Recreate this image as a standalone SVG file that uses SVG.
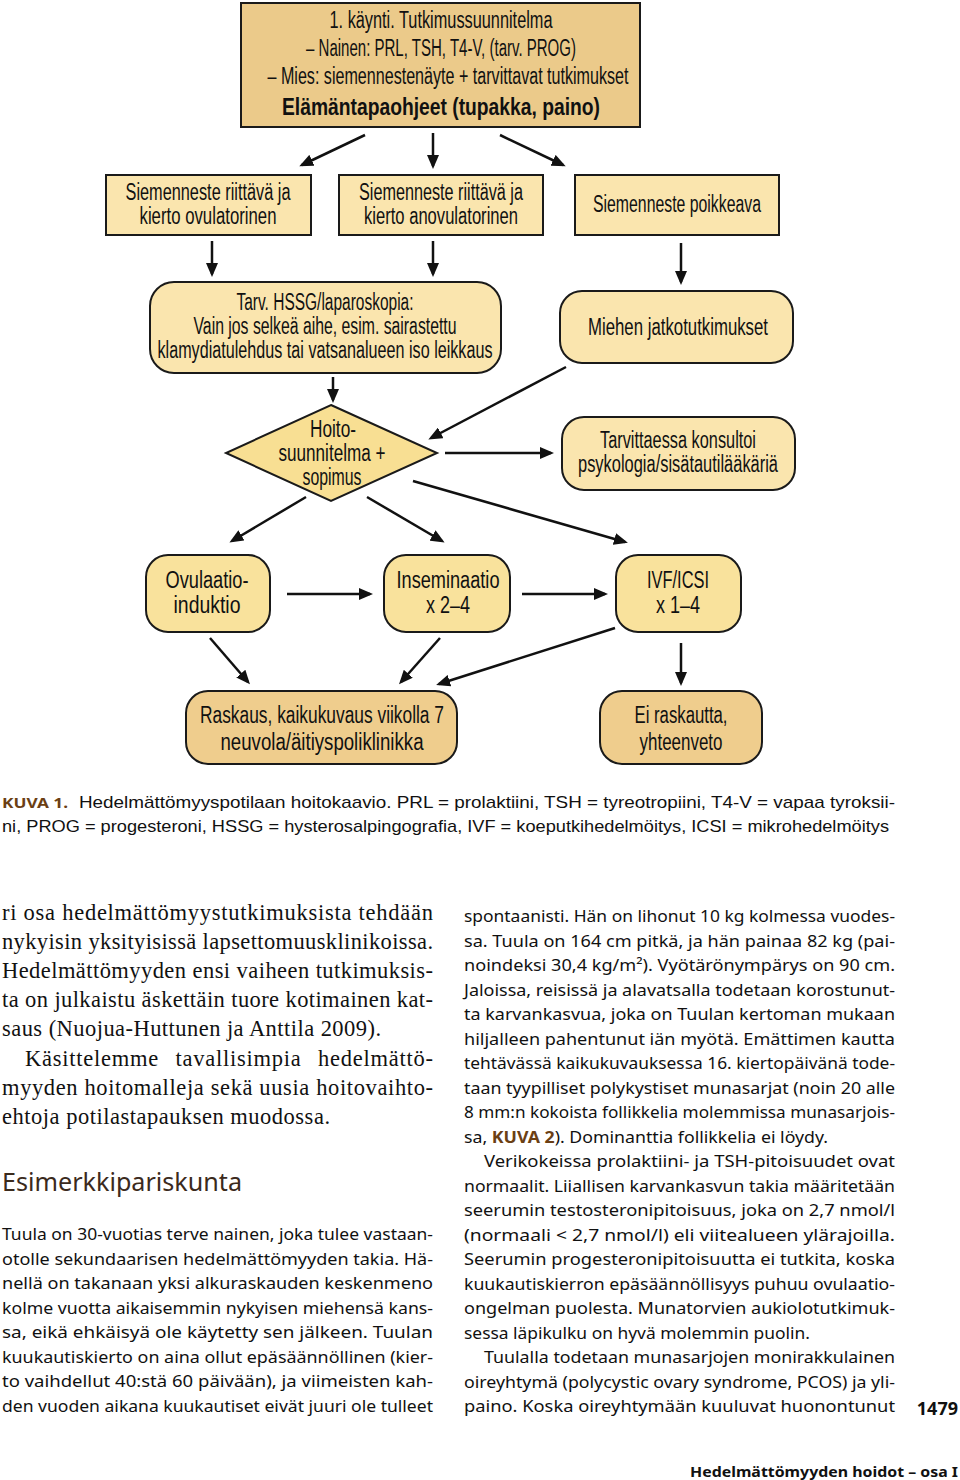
<svg xmlns="http://www.w3.org/2000/svg" width="960" height="1480" viewBox="0 0 960 1480">
<defs>
<marker id="ah" markerWidth="14" markerHeight="12" refX="11" refY="6" orient="auto" markerUnits="userSpaceOnUse">
<path d="M0,0 L14,6 L0,12 z" fill="#111"/>
</marker>
<style>
.box{stroke:#1a1a1a;stroke-width:2}
.tan{fill:#ebca8a}
.light{fill:#fae5ae}
.yel{fill:#f9e29c}
.dtan{fill:#efcd8d}
.n{font-family:"Liberation Sans",Arial,sans-serif;font-size:23px;fill:#111;text-anchor:middle}
.nb{font-weight:bold}
.c line{stroke:#111;stroke-width:2.5;marker-end:url(#ah)}
.cap{font-family:"Liberation Sans",Arial,sans-serif;font-size:17px;fill:#111}
.kuva{font-family:"Noto Sans","Liberation Sans",sans-serif;font-weight:bold;fill:#6b3f14}
.serif{font-family:"Liberation Serif","Times New Roman",serif;font-size:22.5px;fill:#111}
.sans{font-family:"Noto Sans","Open Sans",sans-serif;font-size:16.5px;fill:#111}
.head{font-family:"Noto Sans","Open Sans",sans-serif;font-size:26px;fill:#3b2a1c}
</style>
</defs>
<rect width="960" height="1480" fill="#ffffff"/>

<g id="connectors" class="c">
<line x1="365" y1="135" x2="302" y2="165"/>
<line x1="433" y1="133" x2="433" y2="166"/>
<line x1="500" y1="135" x2="563" y2="165"/>
<line x1="212" y1="241" x2="212" y2="274"/>
<line x1="433" y1="241" x2="433" y2="274"/>
<line x1="681" y1="243" x2="681" y2="282"/>
<line x1="333" y1="377" x2="333" y2="400"/>
<line x1="566" y1="367" x2="431" y2="438"/>
<line x1="445" y1="453" x2="551" y2="453"/>
<line x1="306" y1="497" x2="232" y2="541"/>
<line x1="367" y1="497" x2="442" y2="541"/>
<line x1="413" y1="481" x2="625" y2="542"/>
<line x1="287" y1="594" x2="370" y2="594"/>
<line x1="522" y1="594" x2="605" y2="594"/>
<line x1="210" y1="638" x2="248" y2="682"/>
<line x1="440" y1="638" x2="401" y2="682"/>
<line x1="615" y1="628" x2="439" y2="684"/>
<line x1="681" y1="643" x2="681" y2="683"/>
</g>

<g id="n-visit">
<rect class="box tan" x="241" y="3" width="399" height="124"/>
<text class="n" x="441" y="28" textLength="223" lengthAdjust="spacingAndGlyphs">1. käynti. Tutkimussuunnitelma</text>
<text class="n" x="441" y="56" textLength="270" lengthAdjust="spacingAndGlyphs">– Nainen: PRL, TSH, T4-V, (tarv. PROG)</text>
<text class="n" x="448" y="84" textLength="361" lengthAdjust="spacingAndGlyphs">– Mies: siemennestenäyte + tarvittavat tutkimukset</text>
<text class="n nb" x="441" y="115" textLength="318" lengthAdjust="spacingAndGlyphs">Elämäntapaohjeet (tupakka, paino)</text>
</g>

<g id="n-ovul">
<rect class="box light" x="106" y="175" width="205" height="60"/>
<text class="n" x="208" y="200" textLength="165" lengthAdjust="spacingAndGlyphs">Siemenneste riittävä ja</text>
<text class="n" x="208" y="224" textLength="137" lengthAdjust="spacingAndGlyphs">kierto ovulatorinen</text>
</g>

<g id="n-anovul">
<rect class="box light" x="339" y="175" width="204" height="60"/>
<text class="n" x="441" y="200" textLength="164" lengthAdjust="spacingAndGlyphs">Siemenneste riittävä ja</text>
<text class="n" x="441" y="224" textLength="154" lengthAdjust="spacingAndGlyphs">kierto anovulatorinen</text>
</g>

<g id="n-poikkeava">
<rect class="box light" x="575" y="175" width="204" height="60"/>
<text class="n" x="677" y="212" textLength="168" lengthAdjust="spacingAndGlyphs">Siemenneste poikkeava</text>
</g>

<g id="n-hssg">
<rect class="box light" x="150" y="282" width="351" height="91" rx="24"/>
<text class="n" x="325" y="310" textLength="177" lengthAdjust="spacingAndGlyphs">Tarv. HSSG/laparoskopia:</text>
<text class="n" x="325" y="334" textLength="263" lengthAdjust="spacingAndGlyphs">Vain jos selkeä aihe, esim. sairastettu</text>
<text class="n" x="325" y="358" textLength="335" lengthAdjust="spacingAndGlyphs">klamydiatulehdus tai vatsanalueen iso leikkaus</text>
</g>

<g id="n-miehen">
<rect class="box light" x="560" y="291" width="233" height="72" rx="22"/>
<text class="n" x="678" y="335" textLength="180" lengthAdjust="spacingAndGlyphs">Miehen jatkotutkimukset</text>
</g>

<g id="n-hoito">
<polygon class="box" fill="#f8df93" points="331,405 437,453 331,501 226,453"/>
<text class="n" x="333" y="437" textLength="46" lengthAdjust="spacingAndGlyphs">Hoito-</text>
<text class="n" x="332" y="461" textLength="107" lengthAdjust="spacingAndGlyphs">suunnitelma +</text>
<text class="n" x="332" y="485" textLength="59" lengthAdjust="spacingAndGlyphs">sopimus</text>
</g>

<g id="n-konsultoi">
<rect class="box light" x="562" y="417" width="233" height="73" rx="22"/>
<text class="n" x="678" y="448" textLength="156" lengthAdjust="spacingAndGlyphs">Tarvittaessa konsultoi</text>
<text class="n" x="678" y="472" textLength="200" lengthAdjust="spacingAndGlyphs">psykologia/sisätautilääkäriä</text>
</g>

<g id="n-ovulaatio">
<rect class="box yel" x="146" y="555" width="124" height="77" rx="22"/>
<text class="n" x="207" y="588" textLength="83" lengthAdjust="spacingAndGlyphs">Ovulaatio-</text>
<text class="n" x="207" y="613" textLength="67" lengthAdjust="spacingAndGlyphs">induktio</text>
</g>

<g id="n-insem">
<rect class="box yel" x="384" y="555" width="126" height="77" rx="22"/>
<text class="n" x="448" y="588" textLength="103" lengthAdjust="spacingAndGlyphs">Inseminaatio</text>
<text class="n" x="448" y="613" textLength="44" lengthAdjust="spacingAndGlyphs">x 2–4</text>
</g>

<g id="n-ivf">
<rect class="box yel" x="616" y="555" width="125" height="77" rx="22"/>
<text class="n" x="678" y="588" textLength="62" lengthAdjust="spacingAndGlyphs">IVF/ICSI</text>
<text class="n" x="678" y="613" textLength="44" lengthAdjust="spacingAndGlyphs">x 1–4</text>
</g>

<g id="n-raskaus">
<rect class="box dtan" x="186" y="691" width="271" height="73" rx="22"/>
<text class="n" x="322" y="723" textLength="244" lengthAdjust="spacingAndGlyphs">Raskaus, kaikukuvaus viikolla 7</text>
<text class="n" x="322" y="750" textLength="203" lengthAdjust="spacingAndGlyphs">neuvola/äitiyspoliklinikka</text>
</g>

<g id="n-ei">
<rect class="box dtan" x="600" y="691" width="162" height="73" rx="22"/>
<text class="n" x="681" y="723" textLength="93" lengthAdjust="spacingAndGlyphs">Ei raskautta,</text>
<text class="n" x="681" y="750" textLength="83" lengthAdjust="spacingAndGlyphs">yhteenveto</text>
</g>

<g id="caption">
<text class="kuva" x="2" y="808" font-size="15" textLength="66" lengthAdjust="spacingAndGlyphs">KUVA 1.</text>
<text class="cap" x="79" y="808" textLength="816" lengthAdjust="spacingAndGlyphs">Hedelmättömyyspotilaan hoitokaavio. PRL = prolaktiini, TSH = tyreotropiini, T4-V = vapaa tyroksii-</text>
<text class="cap" x="2" y="832" textLength="887" lengthAdjust="spacingAndGlyphs">ni, PROG = progesteroni, HSSG = hysterosalpingografia, IVF = koeputkihedelmöitys, ICSI = mikrohedelmöitys</text>
</g>

<g id="col-left-serif" class="serif">
<text x="2" y="920" textLength="431">ri osa hedelmättömyystutkimuksista tehdään</text>
<text x="2" y="949" textLength="431">nykyisin yksityisissä lapsettomuusklinikoissa.</text>
<text x="2" y="978" textLength="431">Hedelmättömyyden ensi vaiheen tutkimuksis-</text>
<text x="2" y="1007" textLength="431">ta on julkaistu äskettäin tuore kotimainen kat-</text>
<text x="2" y="1036" textLength="379">saus (Nuojua-Huttunen ja Anttila 2009).</text>
<text x="25" y="1066" textLength="408" word-spacing="10">Käsittelemme tavallisimpia hedelmättö-</text>
<text x="2" y="1095" textLength="431">myyden hoitomalleja sekä uusia hoitovaihto-</text>
<text x="2" y="1124" textLength="328">ehtoja potilastapauksen muodossa.</text>
</g>

<text class="head" x="2" y="1191" textLength="240" lengthAdjust="spacingAndGlyphs">Esimerkkipariskunta</text>

<g id="col-left-sans" class="sans">
<text x="2" y="1240" textLength="431" lengthAdjust="spacingAndGlyphs">Tuula on 30-vuotias terve nainen, joka tulee vastaan-</text>
<text x="2" y="1264.5" textLength="431" lengthAdjust="spacingAndGlyphs">otolle sekundaarisen hedelmättömyyden takia. Hä-</text>
<text x="2" y="1289" textLength="431" lengthAdjust="spacingAndGlyphs">nellä on takanaan yksi alkuraskauden keskenmeno</text>
<text x="2" y="1313.5" textLength="431" lengthAdjust="spacingAndGlyphs">kolme vuotta aikaisemmin nykyisen miehensä kans-</text>
<text x="2" y="1338" textLength="431" lengthAdjust="spacingAndGlyphs">sa, eikä ehkäisyä ole käytetty sen jälkeen. Tuulan</text>
<text x="2" y="1362.5" textLength="431" lengthAdjust="spacingAndGlyphs">kuukautiskierto on aina ollut epäsäännöllinen (kier-</text>
<text x="2" y="1387" textLength="431" lengthAdjust="spacingAndGlyphs">to vaihdellut 40:stä 60 päivään), ja viimeisten kah-</text>
<text x="2" y="1411.5" textLength="431" lengthAdjust="spacingAndGlyphs">den vuoden aikana kuukautiset eivät juuri ole tulleet</text>
</g>

<g id="col-right" class="sans">
<text x="464" y="922" textLength="431" lengthAdjust="spacingAndGlyphs">spontaanisti. Hän on lihonut 10 kg kolmessa vuodes-</text>
<text x="464" y="946.5" textLength="431" lengthAdjust="spacingAndGlyphs">sa. Tuula on 164 cm pitkä, ja hän painaa 82 kg (pai-</text>
<text x="464" y="971" textLength="431" lengthAdjust="spacingAndGlyphs">noindeksi 30,4 kg/m²). Vyötärönympärys on 90 cm.</text>
<text x="464" y="995.5" textLength="431" lengthAdjust="spacingAndGlyphs">Jaloissa, reisissä ja alavatsalla todetaan korostunut-</text>
<text x="464" y="1020" textLength="431" lengthAdjust="spacingAndGlyphs">ta karvankasvua, joka on Tuulan kertoman mukaan</text>
<text x="464" y="1044.5" textLength="431" lengthAdjust="spacingAndGlyphs">hiljalleen pahentunut iän myötä. Emättimen kautta</text>
<text x="464" y="1069" textLength="431" lengthAdjust="spacingAndGlyphs">tehtävässä kaikukuvauksessa 16. kiertopäivänä tode-</text>
<text x="464" y="1093.5" textLength="431" lengthAdjust="spacingAndGlyphs">taan tyypilliset polykystiset munasarjat (noin 20 alle</text>
<text x="464" y="1118" textLength="431" lengthAdjust="spacingAndGlyphs">8 mm:n kokoista follikkelia molemmissa munasarjois-</text>
<text x="464" y="1142.5" textLength="364" lengthAdjust="spacingAndGlyphs">sa, <tspan font-weight="bold" fill="#6b3f14">KUVA 2</tspan>). Dominanttia follikkelia ei löydy.</text>
<text x="484" y="1167" textLength="411" lengthAdjust="spacingAndGlyphs">Verikokeissa prolaktiini- ja TSH-pitoisuudet ovat</text>
<text x="464" y="1191.5" textLength="431" lengthAdjust="spacingAndGlyphs">normaalit. Liiallisen karvankasvun takia määritetään</text>
<text x="464" y="1216" textLength="431" lengthAdjust="spacingAndGlyphs">seerumin testosteronipitoisuus, joka on 2,7 nmol/l</text>
<text x="464" y="1240.5" textLength="431" lengthAdjust="spacingAndGlyphs">(normaali &lt; 2,7 nmol/l) eli viitealueen ylärajoilla.</text>
<text x="464" y="1265" textLength="431" lengthAdjust="spacingAndGlyphs">Seerumin progesteronipitoisuutta ei tutkita, koska</text>
<text x="464" y="1289.5" textLength="431" lengthAdjust="spacingAndGlyphs">kuukautiskierron epäsäännöllisyys puhuu ovulaatio-</text>
<text x="464" y="1314" textLength="431" lengthAdjust="spacingAndGlyphs">ongelman puolesta. Munatorvien aukiolotutkimuk-</text>
<text x="464" y="1338.5" textLength="346" lengthAdjust="spacingAndGlyphs">sessa läpikulku on hyvä molemmin puolin.</text>
<text x="484" y="1363" textLength="411" lengthAdjust="spacingAndGlyphs">Tuulalla todetaan munasarjojen monirakkulainen</text>
<text x="464" y="1387.5" textLength="431" lengthAdjust="spacingAndGlyphs">oireyhtymä (polycystic ovary syndrome, PCOS) ja yli-</text>
<text x="464" y="1412" textLength="431" lengthAdjust="spacingAndGlyphs">paino. Koska oireyhtymään kuuluvat huonontunut</text>
</g>

<text x="958" y="1415" text-anchor="end" font-family="Noto Sans, sans-serif" font-weight="bold" font-size="18" fill="#111">1479</text>
<text x="958" y="1477" text-anchor="end" font-family="Noto Sans, sans-serif" font-weight="bold" font-size="15" fill="#111" textLength="268" lengthAdjust="spacingAndGlyphs">Hedelmättömyyden hoidot – osa I</text>
</svg>
